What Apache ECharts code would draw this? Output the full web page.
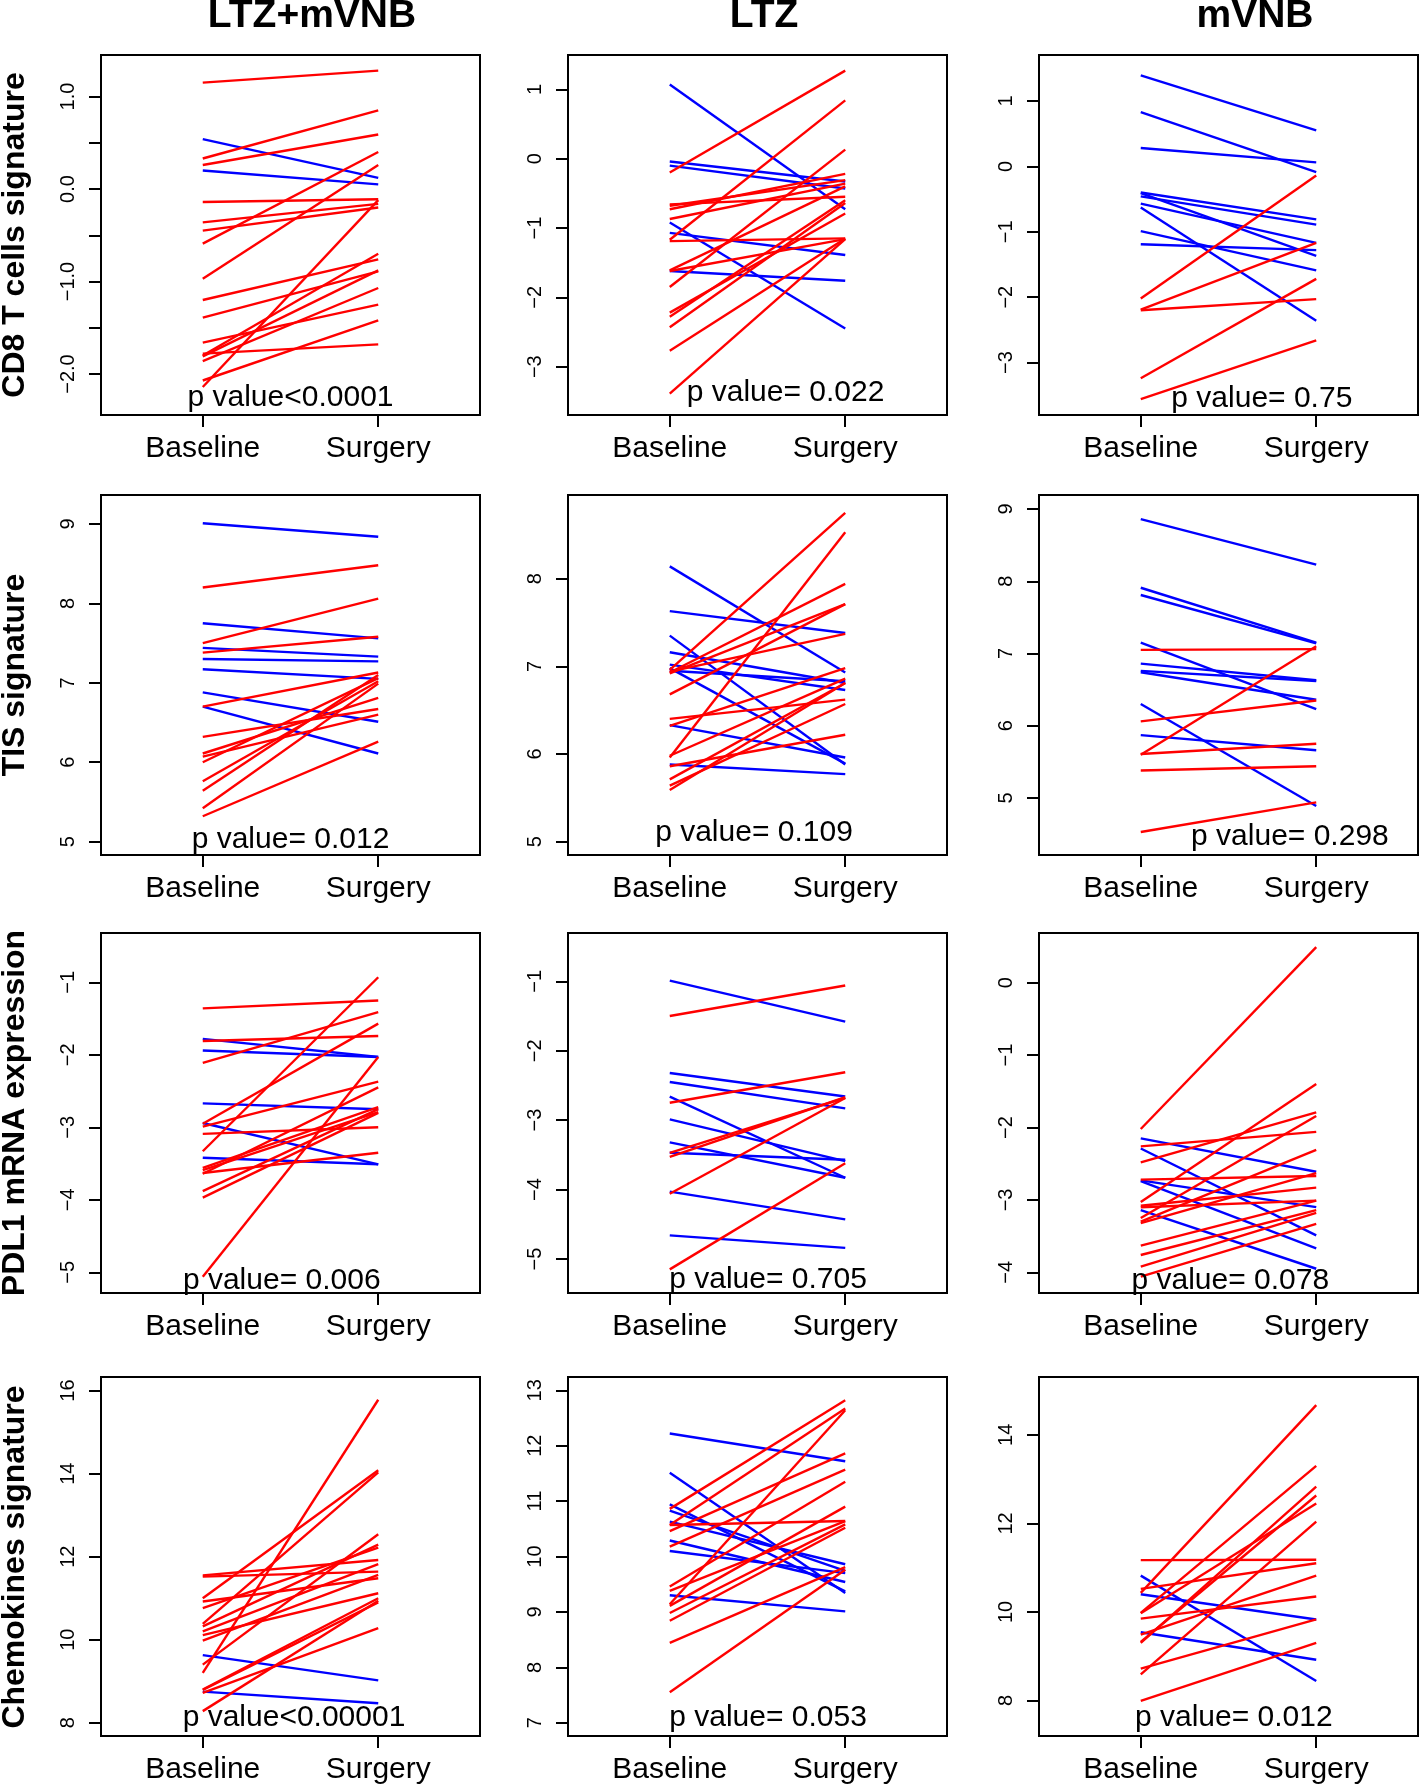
<!DOCTYPE html>
<html><head><meta charset="utf-8">
<script src="https://cdn.jsdelivr.net/npm/echarts@6/dist/echarts.min.js"></script>
<style>html,body{margin:0;padding:0;background:#fff}#c{width:1419px;height:1785px}</style>
</head><body><div id="c"></div>
<script>
// ---------------- DATA ----------------
const categories = ['Baseline', 'Surgery'];
const treatments = ['LTZ+mVNB', 'LTZ', 'mVNB'];
const signatures = ['CD8 T cells signature', 'TIS signature', 'PDL1 mRNA expression', 'Chemokines signature'];

// CD8 T cells signature
const cd8_combo_base = [0.54, 0.20, 1.15, 0.33, 0.26, -0.14, -0.36, -0.45, -0.59, -0.97, -1.20, -1.39, -1.66, -1.78, -1.80, -1.81, -1.86, -2.07, -2.14];
const cd8_combo_surg = [0.12, 0.05, 1.28, 0.85, 0.59, -0.11, -0.16, -0.20, 0.40, 0.26, -0.76, -0.89, -1.25, -1.68, -0.70, -0.88, -1.07, -1.42, -0.12];
const cd8_ltz_base = [1.07, -0.04, -0.10, -0.92, -1.07, -1.62, -0.20, -1.17, -1.85, -0.66, -0.68, -0.73, -0.87, -1.19, -1.61, -1.62, -2.22, -2.28, -2.43, -2.77, -3.39];
const cd8_ltz_surg = [-0.73, -0.33, -0.43, -2.45, -1.39, -1.76, 1.27, 0.84, 0.13, -0.55, -0.31, -0.22, -0.36, -1.15, -0.40, -1.16, -0.79, -0.60, -0.64, -1.15, -1.16];
const cd8_mvnb_base = [1.39, 0.83, 0.28, -0.40, -0.46, -0.41, -0.57, -0.63, -0.99, -1.19, -2.02, -2.19, -2.20, -3.24, -3.56];
const cd8_mvnb_surg = [0.55, -0.09, 0.06, -0.81, -0.89, -1.37, -1.17, -2.36, -1.59, -1.28, -0.14, -1.17, -2.03, -1.72, -2.66];

// TIS signature
const tis_combo_base = [9.01, 7.75, 7.44, 7.30, 7.17, 6.88, 6.70, 8.20, 7.50, 7.38, 6.70, 6.32, 6.11, 6.07, 6.00, 5.76, 5.64, 5.42, 5.32];
const tis_combo_surg = [8.84, 7.56, 7.33, 7.27, 7.05, 6.51, 6.11, 8.48, 8.06, 7.58, 7.13, 6.67, 6.81, 6.60, 7.06, 7.02, 7.10, 6.99, 6.26];
const tis_ltz_base = [8.14, 7.63, 7.35, 7.16, 7.02, 6.95, 6.98, 6.33, 5.88, 6.96, 5.96, 6.93, 6.92, 6.68, 6.94, 6.40, 6.32, 5.98, 5.71, 5.64, 5.59, 5.86];
const tis_ltz_surg = [6.93, 7.38, 5.88, 6.81, 6.73, 6.83, 5.89, 5.96, 5.77, 8.75, 8.53, 7.94, 7.71, 7.71, 7.37, 6.62, 6.98, 6.86, 6.81, 6.57, 6.81, 6.22];
const tis_mvnb_base = [8.86, 7.91, 7.81, 7.15, 6.86, 6.76, 6.74, 6.30, 5.87, 7.05, 5.60, 6.06, 5.61, 5.38, 4.53];
const tis_mvnb_surg = [8.23, 7.15, 7.14, 6.23, 6.63, 6.62, 6.36, 4.89, 5.66, 7.06, 7.10, 6.35, 5.75, 5.44, 4.94];

// PDL1 mRNA expression
const pdl1_combo_base = [-1.78, -1.94, -2.67, -2.94, -3.42, -1.36, -1.81, -2.11, -2.95, -2.99, -3.09, -3.33, -3.56, -3.59, -3.63, -3.64, -3.88, -3.97, -5.06];
const pdl1_combo_surg = [-2.03, -2.03, -2.75, -3.51, -3.51, -1.25, -1.74, -1.41, -1.57, -2.37, -3.00, -0.93, -2.72, -2.79, -3.35, -2.45, -2.75, -2.80, -2.03];
const pdl1_ltz_base = [-0.99, -2.32, -2.45, -2.66, -2.99, -3.32, -3.47, -4.03, -4.66, -1.50, -2.75, -3.47, -3.53, -4.06, -5.15];
const pdl1_ltz_surg = [-1.58, -2.66, -2.83, -3.83, -3.59, -3.83, -3.57, -4.43, -4.84, -1.06, -2.31, -2.68, -2.67, -2.68, -3.62];
const pdl1_mvnb_base = [-2.15, -2.29, -2.73, -2.74, -3.14, -2.02, -2.26, -2.48, -2.72, -3.03, -3.08, -3.10, -3.25, -3.30, -3.32, -3.63, -3.76, -3.92, -4.06];
const pdl1_mvnb_surg = [-2.61, -3.49, -3.10, -3.67, -3.95, 0.49, -2.06, -1.79, -2.67, -1.40, -2.83, -3.01, -1.84, -2.31, -2.63, -3.01, -3.14, -3.18, -3.33];

// Chemokines signature
const chem_combo_base = [9.63, 8.75, 11.55, 11.52, 11.00, 10.92, 10.76, 10.38, 10.32, 10.20, 10.11, 9.98, 9.40, 9.20, 8.80, 8.72, 8.28, 8.79];
const chem_combo_surg = [9.02, 8.47, 11.92, 11.64, 14.08, 11.48, 12.22, 14.03, 12.29, 11.82, 11.12, 11.56, 12.54, 15.78, 11.00, 10.28, 10.94, 10.90];
const chem_ltz_base = [12.22, 11.51, 10.94, 10.83, 10.63, 10.29, 10.10, 9.30, 10.86, 10.57, 10.46, 10.18, 9.46, 9.38, 9.14, 9.11, 8.98, 8.84, 8.44, 7.55, 10.57];
const chem_ltz_surg = [11.72, 9.34, 9.37, 9.74, 9.86, 9.54, 9.70, 9.01, 12.82, 12.67, 11.86, 11.57, 11.35, 10.64, 12.64, 10.90, 10.58, 10.52, 9.81, 9.76, 10.64];
const chem_mvnb_base = [10.82, 10.40, 9.54, 11.17, 10.43, 10.52, 9.98, 9.97, 9.85, 9.32, 9.30, 9.49, 8.72, 8.59, 7.99];
const chem_mvnb_surg = [8.44, 9.83, 8.92, 11.18, 14.67, 11.10, 13.30, 12.45, 10.35, 12.63, 12.83, 10.82, 9.83, 12.04, 9.30];

// p values
const pValueText = ['p value<0.0001', 'p value= 0.022', 'p value= 0.75',
                    'p value= 0.012', 'p value= 0.109', 'p value= 0.298',
                    'p value= 0.006', 'p value= 0.705', 'p value= 0.078',
                    'p value<0.00001', 'p value= 0.053', 'p value= 0.012'];
const pValueX = [1.50, 1.66, 1.69, 1.50, 1.48, 1.85, 1.45, 1.56, 1.51, 1.52, 1.56, 1.53];
const pValueY = [-2.26, -3.38, -3.56, 5.03, 5.10, 4.47, -5.11, -5.30, -4.11, 8.12, 7.09, 7.61];

// y tick values (ticks) and tick labels
const yTicks = [
  [-2, -1.5, -1, -0.5, 0, 0.5, 1], [-3, -2, -1, 0, 1], [-3, -2, -1, 0, 1],
  [5, 6, 7, 8, 9], [5, 6, 7, 8], [5, 6, 7, 8, 9],
  [-5, -4, -3, -2, -1], [-5, -4, -3, -2, -1], [-4, -3, -2, -1, 0],
  [8, 10, 12, 14, 16], [7, 8, 9, 10, 11, 12, 13], [8, 10, 12, 14]
];
const yTickLabels = [
  ['−2.0', '−1.0', '0.0', '1.0'], ['−3', '−2', '−1', '0', '1'], ['−3', '−2', '−1', '0', '1'],
  ['5', '6', '7', '8', '9'], ['5', '6', '7', '8'], ['5', '6', '7', '8', '9'],
  ['−5', '−4', '−3', '−2', '−1'], ['−5', '−4', '−3', '−2', '−1'], ['−4', '−3', '−2', '−1', '0'],
  ['8', '10', '12', '14', '16'], ['7', '8', '9', '10', '11', '12', '13'], ['8', '10', '12', '14']
];

// ---------------- LAYOUT ----------------
const FONT = '"Liberation Sans", Arial, Helvetica, sans-serif';
const colLeft = [101, 568, 1039];
const rowTop = [55, 495, 933, 1377];
const gridW = 379, gridH = 360;
const xRange = [0.42, 2.58];
const yRange = [
  [-2.443, 1.449], [-3.697, 1.495], [-3.801, 1.702],
  [4.832, 9.365], [4.848, 8.954], [4.211, 9.194],
  [-5.285, -0.320], [-5.490, -0.304], [-4.285, 0.686],
  [7.681, 16.328], [6.761, 13.240], [7.198, 15.306]
];
const titleX = [312, 764, 1255];

const panels = [
  [cd8_combo_base, cd8_combo_surg], [cd8_ltz_base, cd8_ltz_surg], [cd8_mvnb_base, cd8_mvnb_surg],
  [tis_combo_base, tis_combo_surg], [tis_ltz_base, tis_ltz_surg], [tis_mvnb_base, tis_mvnb_surg],
  [pdl1_combo_base, pdl1_combo_surg], [pdl1_ltz_base, pdl1_ltz_surg], [pdl1_mvnb_base, pdl1_mvnb_surg],
  [chem_combo_base, chem_combo_surg], [chem_ltz_base, chem_ltz_surg], [chem_mvnb_base, chem_mvnb_surg]
];

const grids = [], xAxes = [], yAxes = [], series = [];
panels.forEach(([base, surg], i) => {
  const r = Math.floor(i / 3), c = i % 3;
  grids.push({ left: colLeft[c], top: rowTop[r], width: gridW, height: gridH, show: true,
    borderColor: '#000', borderWidth: 2, backgroundColor: 'transparent' });
  xAxes.push({ gridIndex: i, type: 'value', min: xRange[0], max: xRange[1], position: 'bottom',
    axisLine: { show: false, onZero: false }, splitLine: { show: false },
    axisTick: { show: true, customValues: [1, 2], length: 12, inside: false, lineStyle: { color: '#000', width: 2 } },
    axisLabel: { show: true, customValues: [1, 2], formatter: v => categories[Math.round(v) - 1],
      fontSize: 30, color: '#000', margin: 19, fontFamily: FONT } });
  const labVals = yTickLabels[i].map(s => parseFloat(s.replace('−', '-')));
  yAxes.push({ gridIndex: i, type: 'value', min: yRange[i][0], max: yRange[i][1], position: 'left',
    axisLine: { show: false, onZero: false }, splitLine: { show: false },
    axisTick: { show: true, customValues: yTicks[i], length: 12, lineStyle: { color: '#000', width: 2 } },
    axisLabel: { show: true, customValues: labVals, rotate: 90, fontSize: 20, margin: 23, color: '#000', fontFamily: FONT,
      formatter: v => { const k = labVals.findIndex(x => Math.abs(x - v) < 1e-6); return k >= 0 ? yTickLabels[i][k] : ''; } } });
  base.forEach((b, k) => {
    const s = surg[k];
    series.push({ type: 'line', xAxisIndex: i, yAxisIndex: i, data: [[1, b], [2, s]],
      symbol: 'none', silent: true, animation: false,
      lineStyle: { color: s >= b ? '#ff0000' : '#0000ff', width: 2.4 } });
  });
});

const graphic = [];
treatments.forEach((t, c) => graphic.push({ type: 'text', x: titleX[c], y: 16,
  style: { text: t, font: 'bold 39px ' + FONT, fill: '#000', textAlign: 'center', textVerticalAlign: 'middle' } }));
signatures.forEach((s, r) => graphic.push({ type: 'text', x: 15, y: rowTop[r] + gridH / 2, rotation: Math.PI / 2,
  style: { text: s, font: 'bold 32px ' + FONT, fill: '#000', textAlign: 'center', textVerticalAlign: 'middle' } }));

const chart = echarts.init(document.getElementById('c'), null, { renderer: 'canvas' });
chart.setOption({ backgroundColor: '#fff', animation: false, grid: grids, xAxis: xAxes, yAxis: yAxes, series, graphic });

// p-value annotations placed at data coordinates through each panel's scales
pValueText.forEach((t, i) => {
  const [px, py] = chart.convertToPixel({ xAxisIndex: i, yAxisIndex: i }, [pValueX[i], pValueY[i]]);
  graphic.push({ type: 'text', x: px, y: py, z: 100,
    style: { text: t, font: '30px ' + FONT, fill: '#000', textAlign: 'center', textVerticalAlign: 'middle' } });
});
chart.setOption({ graphic });
</script></body></html>
